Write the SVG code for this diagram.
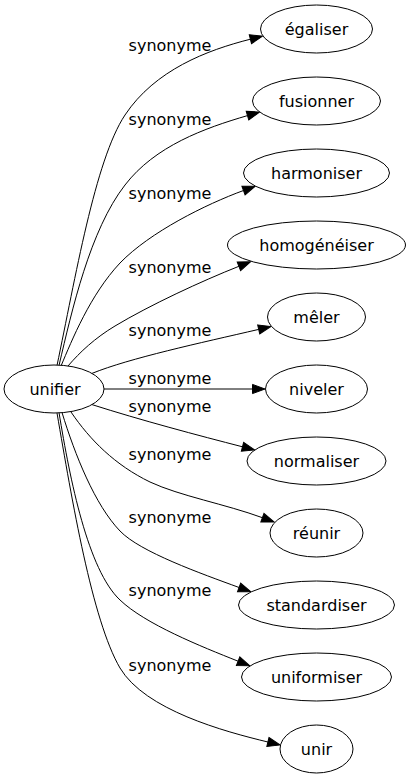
<svg xmlns="http://www.w3.org/2000/svg" width="411" height="779" viewBox="0 0 411 779">
<defs>
<marker id="ah" markerWidth="14" markerHeight="10" refX="0" refY="4.6" orient="auto" markerUnits="userSpaceOnUse" overflow="visible">
<path d="M0,0 L12.5,4.6 L0,9.2 z" fill="black" stroke="black" stroke-width="1"/>
</marker>
</defs>
<style>
.node ellipse{fill:white;stroke:black;stroke-width:1}
text{font-family:"DejaVu Sans",Verdana,sans-serif;font-size:16px;fill:black;text-anchor:middle}
.edge path{fill:none;stroke:black;stroke-width:1;marker-end:url(#ah)}
</style>
<rect width="411" height="779" fill="white"/>
<g id="edges">
<g class="edge" id="e_egaliser"><path d="M57,365.5 C75,280 95,160 125,115 C155,70 206.8,50.2 250.4,39.2"/><text x="170" y="50.5">synonyme</text></g>
<g class="edge" id="e_fusionner"><path d="M59,365.5 C72,310 90,230 125,185 C155,146 204.3,128.2 247.5,115.6"/><text x="170" y="125">synonyme</text></g>
<g class="edge" id="e_harmoniser"><path d="M61,366 C72,340 90,295 120,263 C150,232 205.9,204.3 243.5,190.5"/><text x="170" y="199">synonyme</text></g>
<g class="edge" id="e_homogeneiser"><path d="M68,366 C80,352 95,338 115,326 C150,305 201.7,281 238.9,266.3"/><text x="170" y="273">synonyme</text></g>
<g class="edge" id="e_meler"><path d="M91.7,373.5 C130,358 200,343 258.7,329.4"/><text x="170" y="336">synonyme</text></g>
<g class="edge" id="e_niveler"><path d="M104,389 L252.5,389"/><text x="170" y="384">synonyme</text></g>
<g class="edge" id="e_normaliser"><path d="M91.7,404.5 C140,420 199,435.6 242.5,446.8"/><text x="170" y="411.5">synonyme</text></g>
<g class="edge" id="e_reunir"><path d="M71,412 C90,440 115,465 150,482 C180,496 225,504 262.4,517.7"/><text x="170" y="459.5">synonyme</text></g>
<g class="edge" id="e_standardiser"><path d="M62,412.5 C75,455 95,505 120,531 C140,552 201.5,573.7 239.1,587.5"/><text x="170" y="523">synonyme</text></g>
<g class="edge" id="e_uniformiser"><path d="M59,412.5 C70,480 88,570 120,600 C145,624 200.9,646.4 238.1,661.2"/><text x="170" y="596">synonyme</text></g>
<g class="edge" id="e_unir"><path d="M57,413 C72,500 92,620 120,668 C145,710 224.2,731.5 267.9,742"/><text x="170" y="671">synonyme</text></g>
</g>
<g id="unifier" class="node"><ellipse cx="54" cy="389" rx="50" ry="24"/><text x="55" y="395">unifier</text></g>
<g id="egaliser" class="node"><ellipse cx="316.5" cy="29" rx="56" ry="24"/><text x="316.5" y="35">égaliser</text></g>
<g id="fusionner" class="node"><ellipse cx="316.5" cy="101" rx="64" ry="24"/><text x="316.5" y="107">fusionner</text></g>
<g id="harmoniser" class="node"><ellipse cx="316.5" cy="173" rx="73" ry="24"/><text x="316.5" y="179">harmoniser</text></g>
<g id="homogeneiser" class="node"><ellipse cx="316.5" cy="245" rx="89" ry="24"/><text x="316.5" y="251">homogénéiser</text></g>
<g id="meler" class="node"><ellipse cx="316.5" cy="317" rx="49" ry="24"/><text x="316.5" y="323">mêler</text></g>
<g id="niveler" class="node"><ellipse cx="316.5" cy="389" rx="51" ry="24"/><text x="316.5" y="395">niveler</text></g>
<g id="normaliser" class="node"><ellipse cx="316.5" cy="461" rx="69.5" ry="24"/><text x="316.5" y="467">normaliser</text></g>
<g id="reunir" class="node"><ellipse cx="316.5" cy="533" rx="46.5" ry="24"/><text x="316.5" y="539">réunir</text></g>
<g id="standardiser" class="node"><ellipse cx="316.5" cy="605" rx="78" ry="24"/><text x="316.5" y="611">standardiser</text></g>
<g id="uniformiser" class="node"><ellipse cx="316.5" cy="677" rx="75" ry="24"/><text x="316.5" y="683">uniformiser</text></g>
<g id="unir" class="node"><ellipse cx="316.5" cy="749" rx="36.5" ry="24"/><text x="316.5" y="755">unir</text></g>
</svg>
